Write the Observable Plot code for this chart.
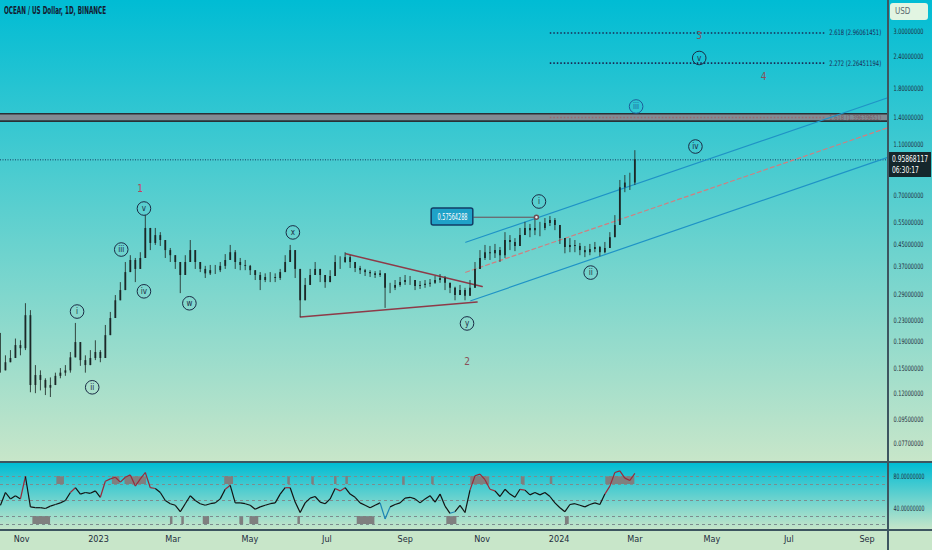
<!DOCTYPE html>
<html><head><meta charset="utf-8">
<script src="https://cdn.jsdelivr.net/npm/d3@7"></script>
<script src="https://cdn.jsdelivr.net/npm/@observablehq/plot@0.6"></script>
<style>
html,body{margin:0;padding:0;background:#c8e6c9;}
#wrap{position:relative;width:932px;height:550px;overflow:hidden;font-family:"Liberation Sans Narrow","DejaVu Sans Condensed","Liberation Sans",sans-serif;}
.bg{position:absolute;left:0;width:932px;background:linear-gradient(#00bcd4,#c8e6c9);}
#main,#rsi{position:absolute;left:0;}
#main{top:0;} #rsi{top:462px;}
.sep{position:absolute;background:#3d5560;}
#title{position:absolute;left:4px;top:5px;font-size:10px;font-weight:bold;color:#131a30;white-space:nowrap;transform:scaleX(0.63);transform-origin:left top;}
#usd{position:absolute;left:890px;top:3px;width:38px;height:17px;background:#e2f5e2;border-radius:3px;font-size:8px;color:#5a6a70;line-height:17px;padding-left:5px;box-sizing:border-box;}
#last{position:absolute;left:889px;top:152px;width:42px;height:25px;background:#15272c;color:#fff;font-size:8.5px;line-height:11px;padding:2px 0 0 3px;box-sizing:border-box;white-space:nowrap;}
#last span{display:inline-block;transform:scaleX(0.78);transform-origin:left center;}
</style></head>
<body>
<div id="wrap">
  <div class="bg" style="top:0;height:462px"></div>
  <div class="bg" style="top:463px;height:67px"></div>
  <div id="main"></div>
  <div id="rsi"></div>
  <div class="sep" style="left:0;top:461px;width:932px;height:2px"></div>
  <div class="sep" style="left:0;top:529px;width:932px;height:2px"></div>
  <div class="sep" style="left:887px;top:0;width:1.5px;height:550px"></div>
  <div id="title">OCEAN / US Dollar, 1D, BINANCE</div>
  <div id="usd">USD</div>
  <div id="last"></div>
</div>
<script>
// ---- price data (approx. every ~4 days) ----
const closes = [
  0.147,0.158,0.164,0.184,0.179,0.240,0.129,0.141,
  0.135,0.126,0.129,0.140,0.144,0.147,0.165,0.189,
  0.161,0.154,0.164,0.173,0.164,0.201,0.234,0.274,
  0.300,0.352,0.392,0.362,0.399,0.521,0.456,0.489,
  0.468,0.428,0.409,0.385,0.343,0.385,0.428,0.385,
  0.362,0.348,0.358,0.358,0.372,0.392,0.420,0.385,
  0.375,0.372,0.358,0.343,0.328,0.337,0.337,0.334,
  0.352,0.385,0.428,0.362,0.274,0.314,0.343,0.362,
  0.343,0.322,0.340,0.385,0.385,0.402,0.385,0.365,
  0.358,0.352,0.348,0.343,0.348,0.306,0.306,0.314,
  0.322,0.328,0.328,0.311,0.314,0.317,0.320,0.328,
  0.334,0.320,0.306,0.287,0.300,0.285,0.306,0.362,
  0.399,0.420,0.416,0.428,0.409,0.468,0.460,0.444,
  0.489,0.521,0.511,0.521,0.521,0.544,0.559,0.535,
  0.476,0.440,0.448,0.444,0.428,0.420,0.432,0.440,
  0.420,0.436,0.480,0.535,0.748,0.780,0.780,0.95868117
];
const highs = [
  0.205,0.168,0.176,0.195,0.192,0.267,0.251,0.154,
  0.147,0.137,0.138,0.144,0.150,0.154,0.173,0.224,
  0.184,0.168,0.176,0.192,0.176,0.220,0.247,0.287,
  0.322,0.385,0.409,0.399,0.420,0.584,0.521,0.521,
  0.502,0.460,0.436,0.409,0.385,0.409,0.468,0.428,
  0.385,0.372,0.375,0.375,0.385,0.413,0.448,0.428,
  0.399,0.392,0.375,0.358,0.352,0.348,0.352,0.348,
  0.362,0.409,0.448,0.409,0.334,0.334,0.362,0.385,
  0.362,0.343,0.358,0.409,0.405,0.420,0.409,0.385,
  0.372,0.362,0.358,0.355,0.358,0.348,0.320,0.328,
  0.337,0.343,0.340,0.328,0.325,0.328,0.331,0.340,
  0.346,0.340,0.320,0.309,0.314,0.306,0.328,0.385,
  0.428,0.448,0.444,0.452,0.440,0.502,0.489,0.476,
  0.521,0.550,0.540,0.576,0.550,0.569,0.579,0.569,
  0.530,0.476,0.476,0.468,0.456,0.444,0.452,0.460,
  0.444,0.460,0.502,0.584,0.798,0.834,0.851,1.040
];
const lows = [
  0.144,0.150,0.158,0.173,0.168,0.176,0.121,0.120,
  0.123,0.118,0.116,0.129,0.137,0.140,0.144,0.173,
  0.153,0.144,0.158,0.161,0.158,0.176,0.214,0.251,
  0.274,0.314,0.362,0.322,0.372,0.428,0.428,0.448,
  0.444,0.399,0.385,0.362,0.292,0.343,0.385,0.362,
  0.352,0.334,0.343,0.346,0.352,0.362,0.399,0.362,
  0.358,0.358,0.343,0.328,0.300,0.322,0.322,0.322,
  0.328,0.358,0.385,0.334,0.236,0.287,0.322,0.343,
  0.322,0.306,0.322,0.362,0.362,0.382,0.365,0.352,
  0.346,0.340,0.337,0.334,0.337,0.256,0.292,0.300,
  0.309,0.314,0.314,0.300,0.303,0.306,0.309,0.317,
  0.320,0.300,0.292,0.274,0.287,0.274,0.292,0.314,
  0.375,0.392,0.392,0.399,0.385,0.399,0.428,0.424,
  0.448,0.489,0.480,0.489,0.484,0.511,0.530,0.511,
  0.452,0.416,0.420,0.420,0.409,0.402,0.409,0.420,
  0.405,0.416,0.448,0.489,0.584,0.716,0.730,0.763
];
const rsi = [
  44,60,52,56,52,80,42,41,
  41,40,43,45,47,50,60,66,
  58,60,59,62,54,74,77,79,
  73,79,82,68,77,85,66,65,
  60,50,46,44,36,46,56,50,
  46,44,46,47,52,64,69,47,
  47,46,44,39,42,44,46,47,
  58,66,66,48,35,47,53,55,
  48,46,52,65,62,66,58,54,
  47,44,41,44,47,27,42,45,
  47,53,54,52,47,52,56,48,
  58,43,34,36,44,35,63,81,
  83,76,64,62,55,64,58,54,
  64,63,57,60,57,60,55,47,
  41,36,45,46,44,42,45,47,
  45,58,68,85,87,78,75,84
];
const lastDate = "2024-03-01";
const stepHours = 95;
const countdown = "06:30:17";

// axis ticks
const priceTicks = [3, 2.4, 1.8, 1.4, 1.1, 0.7, 0.55, 0.45, 0.37, 0.29, 0.23, 0.19, 0.15, 0.12, 0.095, 0.077];
const rsiTicks = [80, 40];
const rsiLevels = [80, 70, 50, 30, 20];
const monthTicks = ["2022-11-01","2023-01-01","2023-03-01","2023-05-01","2023-07-01","2023-09-01","2023-11-01","2024-01-01","2024-03-01","2024-05-01","2024-07-01","2024-09-01"];

// Elliott wave labels
const waveNames  = ["i","ii","iii","iv","v","w","x","y","i","ii","iii","iv","v"];
const waveDates  = ["2022-12-15","2022-12-27","2023-01-19","2023-02-06","2023-02-06","2023-03-14","2023-06-04","2023-10-20","2023-12-16","2024-01-26","2024-03-02","2024-04-18","2024-04-21"];
const wavePrices = [0.249,0.127,0.432,0.298,0.622,0.268,0.503,0.224,0.662,0.352,1.540,1.079,2.370];
const degreeNames  = ["1","2","3","4"];
const degreeDates  = ["2023-02-03","2023-10-20","2024-04-21","2024-06-11"];
const degreePrices = [0.743,0.160,2.895,2.011];

// trend channel
const channelDates = ["2023-10-19","2024-09-18"];
const upperChannel = [0.461, 1.668];
const midChannel   = [0.353, 1.278];
const lowerChannelDates = ["2023-10-23","2024-09-18"];
const lowerChannel = [0.274, 0.9825];
// triangle
const triUpperDates = ["2023-07-16","2023-11-01"];
const triUpper = [0.416, 0.311];
const triLowerDates = ["2023-06-10","2023-10-28"];
const triLower = [0.237, 0.271];

// fib extensions
const fibNames  = ["2.618","2.272"];
const fibPrices = [2.96061451, 2.26451194];
const fibBandName = "1.618";
const fibBandPrice = 1.39639651;
const fibBandRange = [1.352, 1.443];
const fibLineDates = ["2023-12-25","2024-07-31"];
const fibTextDate = "2024-08-02";

// peak price callout
const peakPrice = 0.57564288;
const peakDate = "2023-12-14";
const calloutDates = ["2023-09-22","2023-10-25"];
const calloutPrices = [0.535, 0.622];

// RSI marker boxes
const obBoxes = [["2022-11-29","2022-12-04"],["2023-01-12","2023-01-17"],["2023-01-22","2023-02-07"],["2023-04-11","2023-04-17"],["2023-05-31","2023-06-01"],["2023-06-19","2023-06-20"],["2023-07-07","2023-07-08"],["2023-07-16","2023-07-17"],["2023-08-30","2023-08-31"],["2023-09-22","2023-09-23"],["2023-10-23","2023-11-06"],["2023-12-02","2023-12-04"],["2023-12-25","2023-12-26"],["2024-02-07","2024-02-29"]];
const osBoxes = [["2022-11-10","2022-11-23"],["2023-02-27","2023-02-28"],["2023-03-08","2023-03-09"],["2023-03-25","2023-03-29"],["2023-04-23","2023-04-25"],["2023-05-01","2023-05-07"],["2023-06-08","2023-06-09"],["2023-07-25","2023-08-07"],["2023-10-04","2023-10-11"],["2024-01-06","2024-01-08"]];

// ---------------------------------------------------------------
const P = s => new Date(s + (s.length === 10 ? "T00:00:00Z" : ""));
const xDomain = [new Date("2022-10-15T08:00:00Z"), P("2024-09-18")];
const yDomain = [0.0651, 3.95];
const n = closes.length;
const end = P(lastDate);
const dates = closes.map((_, i) => d3.utcHour.offset(end, -(n - 1 - i) * stepHours));
const candles = closes.map((c, i) => {
  const o = i ? closes[i - 1] : c;
  return {date: dates[i], open: o, close: c, high: Math.max(highs[i], o, c), low: Math.min(lows[i], o, c)};
});
const waves = waveNames.map((t, i) => ({t, date: P(waveDates[i]), price: wavePrices[i]}));
const degrees = degreeNames.map((t, i) => ({t, date: P(degreeDates[i]), price: degreePrices[i]}));
const seg = (ds, ps) => ds.map((d, i) => ({date: P(d), price: ps[i]}));
const fibs = fibNames.map((t, i) => ({t: `${t} (${fibPrices[i].toFixed(8)})`, price: fibPrices[i]}));
const font = '"Liberation Sans Narrow","DejaVu Sans Condensed","Liberation Sans",sans-serif';
const navy = "#1a2b45";
const lastClose = closes[n - 1];

function squeeze(svg, re, len) {
  d3.select(svg).selectAll("text").each(function () {
    if (re.test(this.textContent)) {
      this.setAttribute("textLength", len);
      this.setAttribute("lengthAdjust", "spacingAndGlyphs");
    }
  });
}

const main = Plot.plot({
  width: 932, height: 462,
  marginLeft: 0, marginRight: 44, marginTop: 0, marginBottom: 0,
  style: {background: "transparent", fontFamily: font, color: "#1f2d3d", overflow: "visible"},
  x: {type: "utc", domain: xDomain, axis: null},
  y: {type: "log", domain: yDomain},
  marks: [
    // fib 1.618 zone
    Plot.rect([fibBandRange], {x1: () => xDomain[0], x2: () => xDomain[1], y1: d => d[0], y2: d => d[1], fill: "#828b93"}),
    Plot.ruleY(fibBandRange, {stroke: "#2a3036", strokeWidth: 1.6}),
    Plot.ruleY([fibBandPrice], {x1: () => P(fibLineDates[0]), x2: () => P(fibLineDates[1]), stroke: "#9a6a70", strokeWidth: 1.5, strokeDasharray: "1.5,2"}),
    Plot.text([fibBandPrice], {x: () => P(fibTextDate), y: d => d, text: () => `${fibBandName} (${fibBandPrice.toFixed(8)})`, textAnchor: "start", fill: "#7a5a60", fontSize: 7}),
    // fib dotted levels
    Plot.ruleY(fibs, {y: "price", x1: () => P(fibLineDates[0]), x2: () => P(fibLineDates[1]), stroke: "#1a2a55", strokeWidth: 1.6, strokeDasharray: "1.5,2"}),
    Plot.text(fibs, {x: () => P(fibTextDate), y: "price", text: "t", textAnchor: "start", fill: "#1a2a55", fontSize: 7.5}),
    // current price line
    Plot.ruleY([lastClose], {stroke: "#1a3a5e", strokeWidth: 1, strokeDasharray: "1,1.5"}),
    // channel
    Plot.line(seg(channelDates, upperChannel), {x: "date", y: "price", stroke: "#1f93c6", strokeWidth: 1.2}),
    Plot.line(seg(lowerChannelDates, lowerChannel), {x: "date", y: "price", stroke: "#1f93c6", strokeWidth: 1.2}),
    Plot.line(seg(channelDates, midChannel), {x: "date", y: "price", stroke: "#d07f80", strokeWidth: 1.2, strokeDasharray: "4,3"}),
    // triangle
    Plot.line(seg(triUpperDates, triUpper), {x: "date", y: "price", stroke: "#8e3a48", strokeWidth: 1.5}),
    Plot.line(seg(triLowerDates, triLower), {x: "date", y: "price", stroke: "#8e3a48", strokeWidth: 1.5}),
    // candles
    Plot.ruleX(candles, {x: "date", y1: "low", y2: "high", stroke: "#27332f", strokeWidth: 0.9, clip: true}),
    Plot.ruleX(candles, {x: "date", y1: "open", y2: "close", stroke: "#1c2727", strokeWidth: 1.8, clip: true}),
    // callout
    Plot.link([0], {x1: () => P(calloutDates[1]), x2: () => P(peakDate), y1: () => peakPrice, y2: () => peakPrice, stroke: "#6e4a52", strokeWidth: 1}),
    Plot.dot([0], {x: () => P(peakDate), y: () => peakPrice, r: 2, fill: "#e8f4f4", stroke: "#6e4a52"}),
    Plot.rect([0], {x1: () => P(calloutDates[0]), x2: () => P(calloutDates[1]), y1: () => calloutPrices[0], y2: () => calloutPrices[1], fill: "#1fa2c8", stroke: "#123d66", strokeWidth: 1.5, rx: 2}),
    Plot.text([0], {x: () => new Date((P(calloutDates[0]).getTime() + P(calloutDates[1]).getTime()) / 2), y: () => Math.sqrt(calloutPrices[0] * calloutPrices[1]), text: () => peakPrice.toFixed(8), fill: "white", fontSize: 8}),
    // waves
    Plot.dot(waves, {x: "date", y: "price", r: 6.8, stroke: (d, i) => i === 10 ? "#1d5f9a" : navy, strokeWidth: 1, fill: "none"}),
    Plot.text(waves, {x: "date", y: "price", text: "t", fill: (d, i) => i === 10 ? "#1d5f9a" : navy, fontSize: 8}),
    Plot.text(degrees, {x: "date", y: "price", text: "t", fill: (d, i) => i === 0 ? "#c0445e" : "#8a5058", fontSize: 10}),
    // axis
    Plot.axisY(priceTicks, {anchor: "right", tickSize: 0, tickPadding: 5, tickFormat: d => d.toFixed(8), fontSize: 7.5, label: null})
  ]
});
squeeze(main, /^\d+\.\d{8}$/, 30);
squeeze(main, /^\d\.\d{3} \(/, 52);
document.getElementById("main").appendChild(main);

const rsiSeg = rsi.slice(0, -1).map((v, i) => ({d1: dates[i], d2: dates[i + 1], v1: v, v2: rsi[i + 1], m: (v + rsi[i + 1]) / 2}));
const boxes = (arr, lo, hi) => arr.map(([a, b]) => ({a: P(a), b: d3.utcDay.offset(P(b), 1), lo, hi}));
const rsiPlot = Plot.plot({
  width: 932, height: 88,
  marginLeft: 0, marginRight: 44, marginTop: 1, marginBottom: 20,
  style: {background: "transparent", fontFamily: font, color: "#1f2d3d", overflow: "visible"},
  x: {type: "utc", domain: xDomain},
  y: {domain: [12.5, 96.25]},
  marks: [
    Plot.rect(boxes(obBoxes, 70, 80), {x1: "a", x2: "b", y1: "lo", y2: "hi", fill: "#7f7f7f", clip: true}),
    Plot.rect(boxes(osBoxes, 20, 30), {x1: "a", x2: "b", y1: "lo", y2: "hi", fill: "#7f7f7f", clip: true}),
    Plot.ruleY(rsiLevels, {stroke: "#7c8c8e", strokeWidth: 1, strokeDasharray: "3,3"}),
    Plot.link(rsiSeg, {x1: "d1", x2: "d2", y1: "v1", y2: "v2", stroke: d => d.m >= 63 ? "#9a2a3a" : d.m <= 38 ? "#1c86b5" : "#121212", strokeWidth: 1.2, clip: true}),
    Plot.axisY(rsiTicks, {anchor: "right", tickSize: 0, tickPadding: 5, tickFormat: d => d.toFixed(8), fontSize: 7.5, label: null}),
    Plot.axisX(monthTicks.map(P), {tickSize: 0, tickPadding: 5, fontSize: 9, label: null,
      tickFormat: d => d.getUTCMonth() === 0 ? String(d.getUTCFullYear()) : d3.utcFormat("%b")(d)})
  ]
});
squeeze(rsiPlot, /^\d+\.\d{8}$/, 31);
document.getElementById("rsi").appendChild(rsiPlot);

document.getElementById("last").innerHTML = "<span>" + lastClose.toFixed(8) + "</span><br><span>" + countdown + "</span>";
</script>
</body></html>
